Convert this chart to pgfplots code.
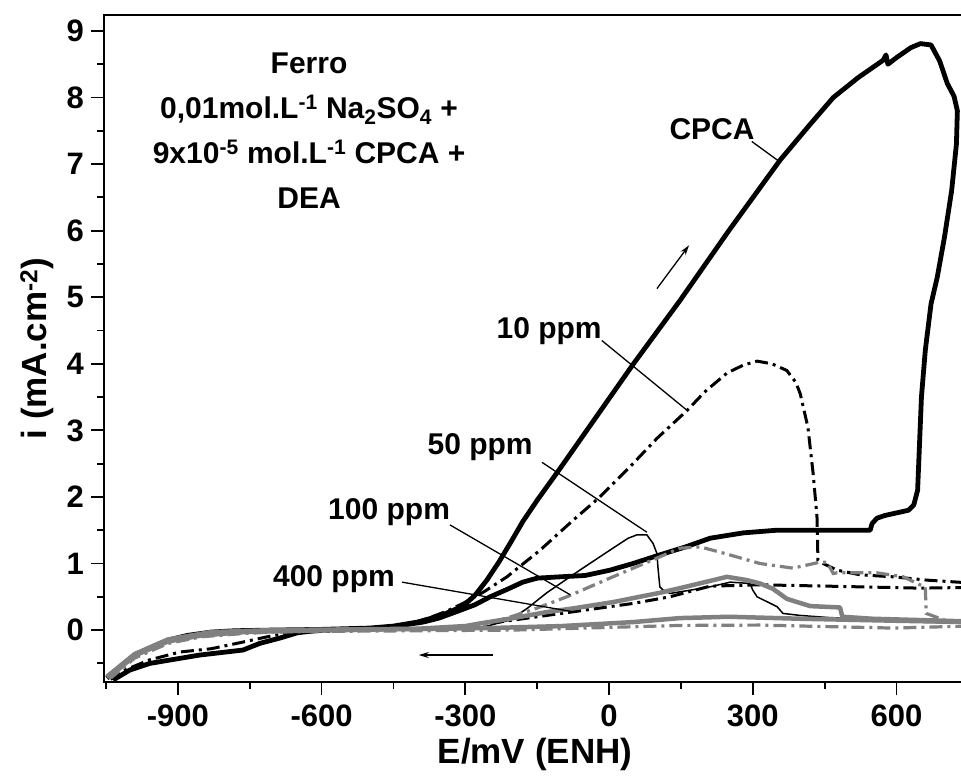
\documentclass[border=0pt]{standalone}
\usepackage{fontspec}
\setmainfont{Liberation Sans}
\usepackage{pgfplots}
\pgfplotsset{compat=1.18}
\usetikzlibrary{arrows.meta}
\definecolor{mgray}{RGB}{128,128,128}
\begin{document}
\begin{tikzpicture}
\begin{axis}[
 scale only axis, width=862bp, height=667bp,
 xmin=-1054, xmax=745, ymin=-0.78, ymax=9.24,
 axis line style={line width=2.2bp},
 xtick={-900,-600,...,600}, minor xtick={-1050,-750,...,750},
 ytick={0,1,...,9}, minor ytick={-0.5,0.5,...,8.5},
 tick align=outside, xtick pos=left, ytick pos=left,
 major tick length=13bp, minor tick length=7bp,
 every tick/.style={line width=1.8bp, black},
 /pgf/number format/assume math mode=true,
 ticklabel style={font=\fontsize{31bp}{36bp}\selectfont\bfseries},
 xticklabel style={inner sep=0pt, anchor=north, yshift=-10bp},
 yticklabel style={inner sep=0pt, anchor=east, xshift=-7bp},
 xlabel={E/mV (ENH)}, ylabel={i (mA.cm\textsuperscript{-2})},
 every axis x label/.style={at={([yshift=-72bp]axis description cs:0.5,0)}, anchor=center, font=\fontsize{35bp}{40bp}\selectfont\bfseries},
 every axis y label/.style={at={([xshift=-67bp]axis description cs:0,0.5)}, anchor=center, rotate=90, font=\fontsize{35bp}{40bp}\selectfont\bfseries},
 clip=true,
]
% CPCA (thick black)
\addplot[black, line width=4.8bp, line join=round] coordinates {
(-1048,-0.72) (-1020,-0.55) (-990,-0.38) (-950,-0.24) (-920,-0.15) (-880,-0.08) (-830,-0.03) (-780,-0.01) (-700,0.0) (-600,0.01) (-500,0.03) (-450,0.06) (-400,0.12) (-350,0.22) (-305,0.36) (-280,0.52) (-255,0.75) (-230,1.02) (-205,1.32) (-180,1.63) (-150,1.95) (-100,2.45) (51,4.0) (148,4.95) (250,6.0) (357,7.06) (420,7.6) (468,8.0) (520,8.3) (572,8.56) (578,8.64) (582,8.5) (600,8.6) (630,8.75) (650,8.81) (672,8.79) (690,8.55) (706,8.21) (720,8.02) (727,7.8) (725,7.3) (715,6.6) (700,5.9) (685,5.3) (672,4.9) (660,4.2) (652,3.5) (648,2.8) (644,2.1) (636,1.88) (625,1.8) (575,1.72) (559,1.68) (549,1.6) (545,1.5) (500,1.5) (400,1.5) (350,1.5) (280,1.46) (211,1.38) (160,1.25) (106,1.13) (50,1.0) (2,0.9) (-50,0.82) (-102,0.8) (-150,0.78) (-180,0.72) (-210,0.62) (-248,0.5) (-280,0.38) (-317,0.28) (-355,0.18) (-388,0.12) (-443,0.06) (-500,0.03) (-600,0.0) (-650,-0.04) (-687,-0.12) (-729,-0.2) (-764,-0.3) (-854,-0.375) (-958,-0.5) (-1000,-0.6) (-1035,-0.75)
};
% 10 ppm (black dash-dot)
\addplot[black, line width=3bp, dash pattern=on 13bp off 5bp on 3bp off 5bp] coordinates {
(-1048,-0.7) (-990,-0.36) (-920,-0.16) (-830,-0.04) (-700,0) (-500,0.02) (-430,0.06) (-388,0.15) (-340,0.28) (-305,0.4) (-260,0.58) (-213,0.8) (-144,1.2) (-75,1.65) (-19,2.0) (50,2.5) (100,2.88) (163,3.3) (200,3.58) (246,3.86) (280,3.98) (309,4.04) (340,4.0) (371,3.9) (390,3.72) (399,3.55) (415,3.05) (426,2.35) (434,1.7) (436,1.05) (447,1.0) (476,0.9) (524,0.83) (593,0.8) (664,0.75) (750,0.71)
};
\addplot[black, line width=3bp, dash pattern=on 13bp off 5bp on 3bp off 5bp] coordinates {
(750,0.64) (649,0.63) (455,0.66) (315,0.68) (211,0.66) (127,0.5) (50,0.4) (-50,0.3) (-150,0.2) (-250,0.1) (-350,0.03) (-500,0.0) (-650,-0.03) (-700,-0.08) (-764,-0.18) (-830,-0.28) (-896,-0.33) (-960,-0.45) (-1010,-0.6) (-1040,-0.74)
};
% 50 ppm (thin black)
\addplot[black, line width=1.5bp] coordinates {
(-700,0) (-400,0.01) (-260,0.05) (-207,0.15) (-170,0.33) (-130,0.56) (-61,0.9) (8,1.23) (40,1.38) (58,1.43) (79,1.43) (92,1.3) (100,1.15) (102,0.95) (106,0.65) (113,0.6) (127,0.55) (170,0.6) (211,0.65) (253,0.72) (294,0.7) (300,0.6) (309,0.5) (351,0.35) (363,0.25) (399,0.22) (455,0.19) (482,0.18) (550,0.15) (650,0.12) (750,0.1)
};
% 100 ppm (gray dash-dot)
\addplot[mgray, line width=3.2bp, dash pattern=on 13bp off 5bp on 3bp off 5bp] coordinates {
(-1048,-0.7) (-990,-0.36) (-920,-0.14) (-830,-0.03) (-700,0) (-400,0.02) (-280,0.06) (-213,0.18) (-150,0.33) (-88,0.5) (8,0.8) (80,1.02) (148,1.23) (190,1.25) (232,1.17) (315,1.0) (384,0.93) (440,1.02) (455,1.02) (468,0.85) (476,0.86) (559,0.86) (614,0.8) (649,0.68) (660,0.65) (662,0.25) (700,0.15) (750,0.1)
};
\addplot[mgray, line width=3.2bp, dash pattern=on 13bp off 5bp on 3bp off 5bp] coordinates {
(750,0.06) (593,0.03) (315,0.075) (150,0.07) (0,0.04) (-200,0.0) (-400,-0.01) (-600,-0.02) (-700,-0.03) (-760,-0.05) (-850,-0.1) (-920,-0.2) (-990,-0.42) (-1040,-0.72)
};
% 400 ppm (thick gray)
\addplot[mgray, line width=4.5bp, line join=round] coordinates {
(-1048,-0.7) (-990,-0.36) (-920,-0.14) (-830,-0.03) (-700,0) (-400,0.02) (-300,0.06) (-269,0.1) (-200,0.18) (-130,0.27) (-71,0.33) (8,0.42) (106,0.56) (148,0.63) (200,0.72) (246,0.8) (288,0.75) (315,0.7) (342,0.62) (371,0.47) (384,0.44) (420,0.36) (482,0.34) (487,0.2) (550,0.17) (650,0.15) (750,0.13)
};
\addplot[mgray, line width=4.5bp, line join=round] coordinates {
(750,0.12) (600,0.14) (400,0.17) (250,0.2) (148,0.18) (50,0.12) (-100,0.06) (-250,0.03) (-477,0.01) (-650,-0.01) (-760,-0.03) (-850,-0.08) (-920,-0.17) (-990,-0.38) (-1045,-0.72)
};
% annotations
\node[font=\fontsize{30bp}{36bp}\selectfont\bfseries] at (axis cs:215,7.53) {CPCA};
\draw[line width=1.3bp] (axis cs:298,7.34) -- (axis cs:357,7.03);
\node[font=\fontsize{30bp}{36bp}\selectfont\bfseries] at (axis cs:-125,4.49) {10 ppm};
\draw[line width=1.3bp] (axis cs:-15,4.35) -- (axis cs:163,3.3);
\node[font=\fontsize{30bp}{36bp}\selectfont\bfseries] at (axis cs:-269,2.75) {50 ppm};
\draw[line width=1.3bp] (axis cs:-140,2.52) -- (axis cs:79,1.47);
\node[font=\fontsize{30bp}{36bp}\selectfont\bfseries] at (axis cs:-459,1.77) {100 ppm};
\draw[line width=1.3bp] (axis cs:-332,1.58) -- (axis cs:-81,0.53);
\node[font=\fontsize{30bp}{36bp}\selectfont\bfseries] at (axis cs:-574,0.77) {400 ppm};
\draw[line width=1.3bp] (axis cs:-432,0.72) -- (axis cs:-71,0.27);
\node[font=\fontsize{30bp}{45bp}\selectfont\bfseries, align=center] at (axis cs:-626,7.5)
 {Ferro\\0,01mol.L\textsuperscript{-1} Na\textsubscript{2}SO\textsubscript{4} +\\9x10\textsuperscript{-5} mol.L\textsuperscript{-1} CPCA +\\DEA};
\draw[line width=1.3bp, -{Stealth[length=10bp,width=6bp]}] (axis cs:100,5.13) -- (axis cs:167,5.78);
\draw[line width=1.3bp, -{Stealth[length=10bp,width=6bp]}] (axis cs:-242,-0.375) -- (axis cs:-397,-0.375);
\end{axis}
\pgfresetboundingbox
\path[use as bounding box] ([shift={(-104bp,-96bp)}]current axis.south west) rectangle ([shift={(-5bp,15bp)}]current axis.north east);
\end{tikzpicture}
\end{document}
